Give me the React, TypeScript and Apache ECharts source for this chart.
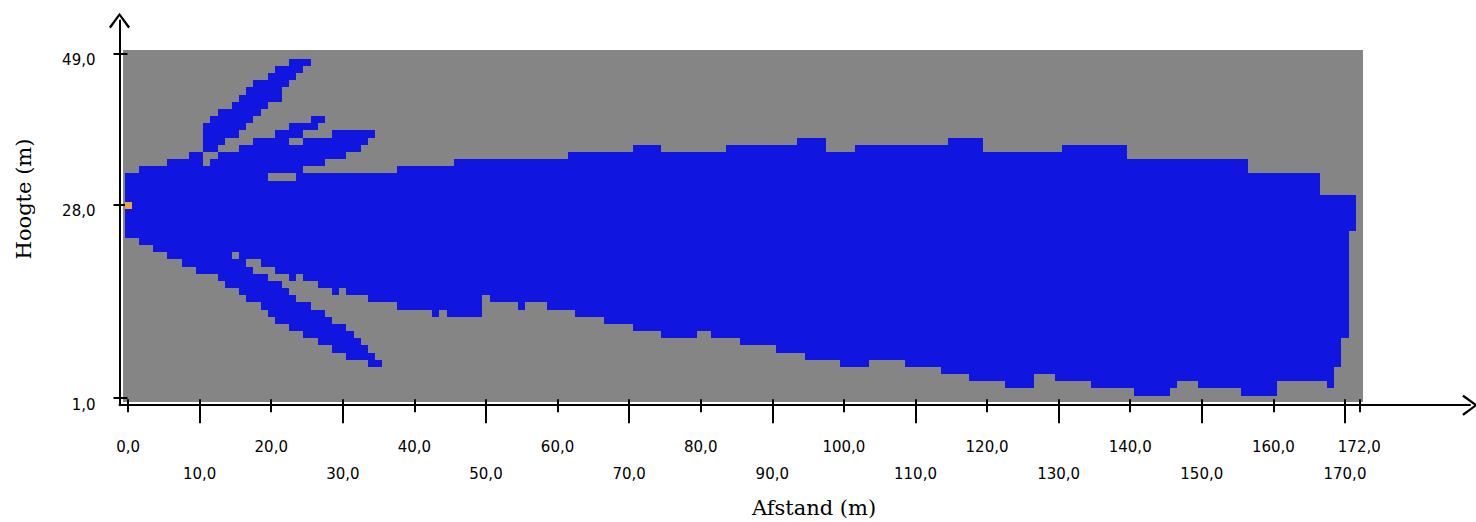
import React, { useEffect, useRef } from 'react';
import * as echarts from 'echarts';

// Axis ticks / labels
const xTicksUpper = [0, 20, 40, 60, 80, 100, 120, 140, 160, 172];
const xTicksLower = [10, 30, 50, 70, 90, 110, 130, 150, 170];
const yTicks = [1, 28, 49];

// Gray field extent: [xMin, xMax, yMin, yMax]
const fieldExtent = [[-0.75, 172.5, 0.5, 49.5]];

// Main blue body per column run: [colFrom, colTo, bottomRow, topRow]
const bodyRuns = [
  [0, 1, 24, 32], [2, 3, 23, 33], [4, 5, 22, 33], [6, 7, 21, 34], [8, 8, 20, 34],
  [9, 9, 20, 35], [10, 10, 19, 35], [11, 12, 19, 33], [13, 13, 18, 33], [14, 15, 17, 33],
  [16, 16, 16, 33], [17, 18, 15, 33], [19, 19, 14, 33], [20, 20, 13, 33], [21, 22, 12, 33],
  [23, 24, 11, 33], [25, 26, 10, 32], [27, 28, 9, 32], [29, 30, 8, 32], [31, 33, 7, 32],
  [34, 35, 6, 32], [36, 37, 15, 32], [38, 42, 14, 33], [43, 43, 13, 33], [44, 44, 14, 33],
  [45, 45, 13, 33], [46, 49, 13, 34], [50, 50, 16, 34], [51, 54, 15, 34], [55, 55, 14, 34],
  [56, 58, 15, 34], [59, 61, 14, 34], [62, 62, 14, 35], [63, 66, 13, 35], [67, 70, 12, 35],
  [71, 74, 11, 36], [75, 79, 10, 35], [80, 81, 11, 35], [82, 83, 10, 35], [84, 85, 10, 36],
  [86, 90, 9, 36], [91, 93, 8, 36], [94, 94, 8, 37], [95, 97, 7, 37], [98, 99, 7, 35],
  [100, 101, 6, 35], [102, 103, 6, 36], [104, 108, 7, 36], [109, 113, 6, 36], [114, 114, 5, 36],
  [115, 117, 5, 37], [118, 119, 4, 37], [120, 122, 4, 35], [123, 126, 3, 35], [127, 129, 5, 35],
  [130, 130, 4, 35], [131, 134, 4, 36], [135, 139, 3, 36], [140, 140, 3, 34], [141, 145, 2, 34],
  [146, 146, 3, 34], [147, 149, 4, 34], [150, 155, 3, 34], [156, 156, 2, 34], [157, 160, 2, 32],
  [161, 166, 4, 32], [167, 167, 4, 29], [168, 168, 3, 29], [169, 169, 6, 29], [170, 170, 10, 29],
  [171, 171, 25, 29],
];

// Extra blue row segments (upper jets): [row, colFrom, colTo]
const jetRuns = [
  [34, 12, 27], [35, 13, 30], [36, 11, 12], [36, 16, 32], [37, 11, 13], [37, 18, 22],
  [37, 25, 33], [38, 11, 15], [38, 21, 24], [38, 29, 34], [39, 11, 16], [39, 23, 26],
  [40, 12, 17], [40, 26, 27], [41, 13, 18], [42, 15, 19], [43, 16, 21], [44, 17, 21],
  [45, 18, 22], [46, 20, 23], [47, 21, 24], [48, 23, 25],
];

// Gray gaps inside the body: [row, colFrom, colTo]
const gapRuns = [
  [32, 20, 23], [21, 15, 15], [20, 17, 18], [19, 18, 20], [18, 20, 22], [18, 24, 24],
  [17, 22, 26], [16, 23, 28], [16, 30, 30], [15, 24, 33], [14, 26, 35], [13, 28, 35],
  [12, 29, 35], [11, 31, 35], [10, 32, 35], [9, 33, 35], [8, 34, 35], [7, 35, 35],
];

// Source cell: [col, row]
const sourceCells = [[0, 28]];

const BLUE = '#1016e0';
const GRAY = '#858585';
const ORANGE = '#eba23a';
const CELL_DY = -0.17;
const X_MIN = -1.2;
const X_MAX = 187.47;
const Y_MIN = 0;
const Y_MAX = 53.67;

const ARROW = 'path://M10,0 L20,13.5 L18.3,15 L10,3.4 L1.7,15 L0,13.5 Z';
const TICK_FONT = { fontFamily: 'DejaVu Sans', fontSize: 15, color: '#000' };

const fmt = (v: number) => v.toFixed(1).replace('.', ',');

function rectFrom(api: any, x0: number, x1: number, y0: number, y1: number) {
  const a = api.coord([x0, y1]);
  const b = api.coord([x1, y0]);
  const x = Math.round(a[0]);
  const y = Math.round(a[1]);
  return { x, y, width: Math.round(b[0]) - x, height: Math.round(b[1]) - y };
}

const fx0 = fieldExtent[0][0];

export default function App() {
  const ref = useRef<HTMLDivElement>(null);
  useEffect(() => {
    if (!ref.current) return;
    const chart = echarts.init(ref.current, undefined, { renderer: 'svg' });
    const baseX = {
      type: 'value', min: X_MIN, max: X_MAX, position: 'bottom', z: 2,
      splitLine: { show: false },
    };
    const option: any = {
      animation: false,
      grid: { left: 119.5, right: 6, top: 20.5, bottom: 116.83, containLabel: false },
      xAxis: [
        {
          ...baseX,
          axisLine: { show: true, onZero: false, symbol: ['none', ARROW], symbolSize: [21, 16], lineStyle: { color: '#000', width: 2 } },
          axisTick: { show: true, customValues: xTicksUpper, length: 7, lineStyle: { color: '#000', width: 2 } },
          axisLabel: { show: true, customValues: xTicksUpper, margin: 34, formatter: (v: number) => fmt(v), ...TICK_FONT },
        },
        {
          ...baseX,
          axisLine: { show: false, onZero: false },
          axisTick: { show: true, inside: true, customValues: xTicksUpper, length: 6, lineStyle: { color: '#000', width: 2 } },
          axisLabel: { show: false },
        },
        {
          ...baseX,
          axisLine: { show: false, onZero: false },
          axisTick: { show: true, customValues: xTicksLower, length: 18, lineStyle: { color: '#000', width: 2 } },
          axisLabel: { show: true, customValues: xTicksLower, margin: 61, formatter: (v: number) => fmt(v), ...TICK_FONT },
        },
        {
          ...baseX,
          axisLine: { show: false, onZero: false },
          axisTick: { show: true, inside: true, customValues: xTicksLower, length: 6, lineStyle: { color: '#000', width: 2 } },
          axisLabel: { show: false },
        },
      ],
      yAxis: [
        {
          type: 'value', min: Y_MIN, max: Y_MAX, position: 'left', z: 2,
          splitLine: { show: false },
          axisLine: { show: true, onZero: false, symbol: ['none', ARROW], symbolSize: [21, 16], lineStyle: { color: '#000', width: 2 } },
          axisTick: { show: true, customValues: yTicks, length: 6, lineStyle: { color: '#000', width: 2 } },
          axisLabel: {
            show: true, customValues: yTicks, margin: 24, verticalAlign: 'top', lineHeight: 13,
            formatter: (v: number) => fmt(v), ...TICK_FONT,
          },
        },
        {
          type: 'value', min: Y_MIN, max: Y_MAX, position: 'left', z: 2,
          splitLine: { show: false },
          axisLine: { show: false, onZero: false },
          axisTick: { show: true, inside: true, customValues: yTicks, length: 8, lineStyle: { color: '#000', width: 2 } },
          axisLabel: { show: false },
        },
      ],
      series: [
        {
          type: 'custom', z: 1, silent: true, data: fieldExtent,
          renderItem: (_p: any, api: any) => ({
            type: 'rect',
            shape: rectFrom(api, api.value(0), api.value(1), api.value(2), api.value(3)),
            style: { fill: GRAY },
          }),
        },
        {
          type: 'custom', z: 3, silent: true, data: bodyRuns,
          renderItem: (_p: any, api: any) => ({
            type: 'rect',
            shape: rectFrom(api, Math.max(api.value(0) - 0.5, fx0), api.value(1) + 0.5,
              api.value(2) - 0.5 + CELL_DY, api.value(3) + 0.5 + CELL_DY),
            style: { fill: BLUE },
          }),
        },
        {
          type: 'custom', z: 3, silent: true, data: jetRuns,
          renderItem: (_p: any, api: any) => ({
            type: 'rect',
            shape: rectFrom(api, api.value(1) - 0.5, api.value(2) + 0.5,
              api.value(0) - 0.5 + CELL_DY, api.value(0) + 0.5 + CELL_DY),
            style: { fill: BLUE },
          }),
        },
        {
          type: 'custom', z: 4, silent: true, data: gapRuns,
          renderItem: (_p: any, api: any) => ({
            type: 'rect',
            shape: rectFrom(api, api.value(1) - 0.5, api.value(2) + 0.5,
              api.value(0) - 0.5 + CELL_DY, api.value(0) + 0.5 + CELL_DY),
            style: { fill: GRAY },
          }),
        },
        {
          type: 'custom', z: 5, silent: true, data: sourceCells,
          renderItem: (_p: any, api: any) => ({
            type: 'rect',
            shape: rectFrom(api, Math.max(api.value(0) - 0.5, fx0), api.value(0) + 0.5,
              api.value(1) - 0.5 + CELL_DY, api.value(1) + 0.5 + CELL_DY),
            style: { fill: ORANGE },
          }),
        },
      ],
      graphic: [
        {
          type: 'text', x: 814, y: 508,
          style: { text: 'Afstand (m)', font: '21px "DejaVu Serif"', fill: '#000', align: 'center', verticalAlign: 'middle' },
        },
        {
          type: 'text', x: 24, y: 199, rotation: Math.PI / 2,
          style: { text: 'Hoogte (m)', font: '21px "DejaVu Serif"', fill: '#000', align: 'center', verticalAlign: 'middle' },
        },
      ],
    };
    chart.setOption(option);
    return () => chart.dispose();
  }, []);
  return <div ref={ref} style={{ position: 'absolute', left: 0, top: 0, width: 1476, height: 522 }} />;
}
